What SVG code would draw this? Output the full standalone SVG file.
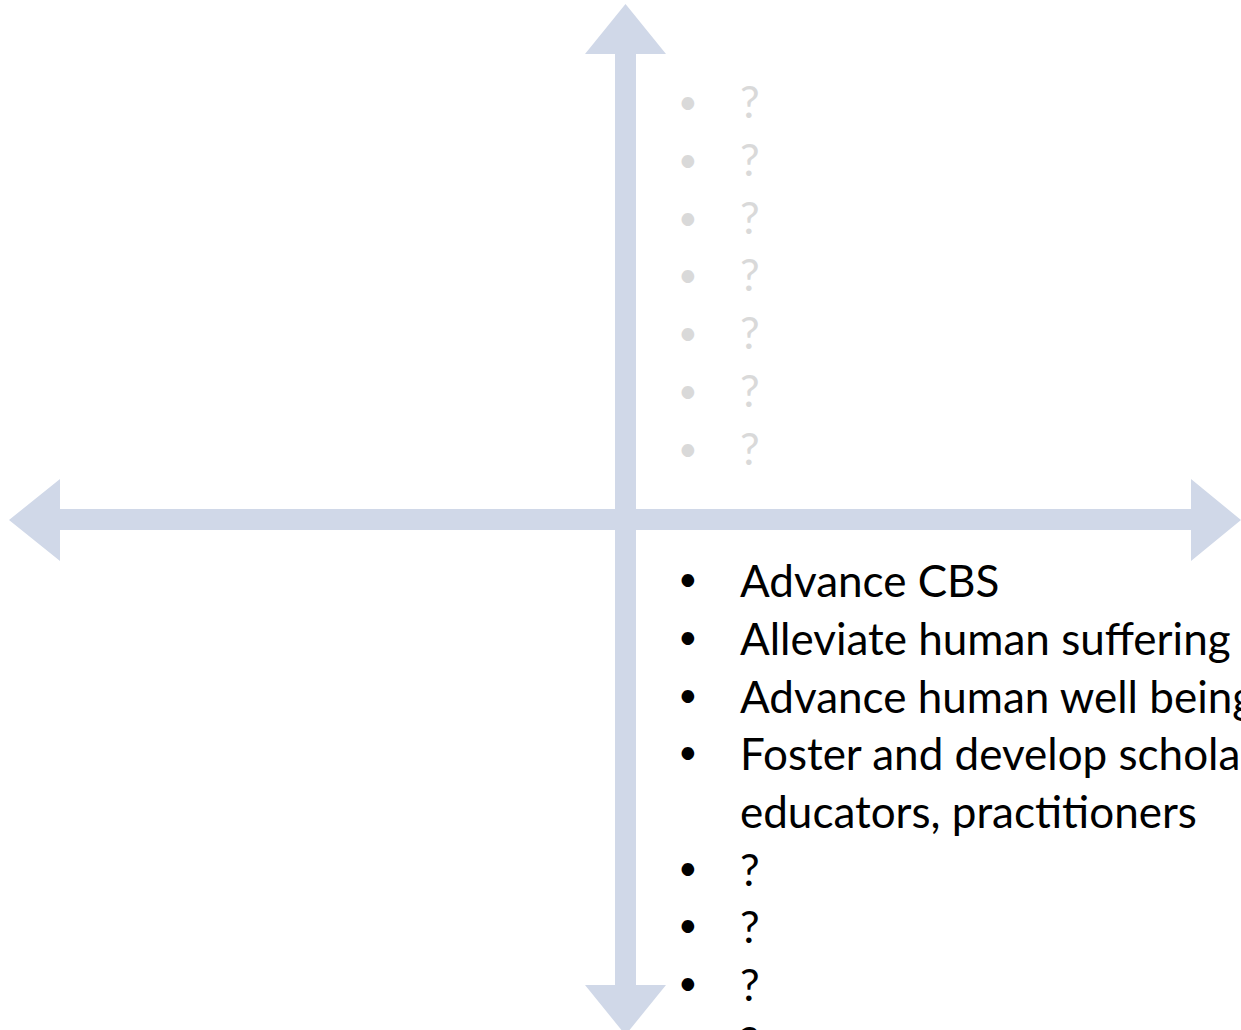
<svg xmlns="http://www.w3.org/2000/svg" width="1241" height="1030" viewBox="0 0 1241 1030">
<style>
.arrow{fill:#D0D8E8}
.t{font-family:Lato,"Open Sans","Liberation Sans",sans-serif;font-size:44px}
.b{font-family:Lato,"Open Sans","Liberation Sans",sans-serif;font-size:34px}
.gray{fill:#D9D9D9}
.black{fill:#000000}
</style>
<rect width="1241" height="1030" fill="#FFFFFF"/>
<g id="connectors">
<polygon class="arrow" points="625.5,4 666,54 636,54 636,985 666,985 625.5,1035 585,985 615,985 615,54 585,54"/>
<polygon class="arrow" points="9,520 60,479 60,509 1191,509 1191,479 1241,520 1191,561 1191,530 60,530 60,561"/>
</g>
<g id="top-list" class="gray">
<text class="b" x="678" y="114">•</text><text class="t" x="740" y="118">?</text>
<text class="b" x="678" y="172">•</text><text class="t" x="740" y="176">?</text>
<text class="b" x="678" y="230">•</text><text class="t" x="740" y="234">?</text>
<text class="b" x="678" y="287">•</text><text class="t" x="740" y="291">?</text>
<text class="b" x="678" y="345">•</text><text class="t" x="740" y="349">?</text>
<text class="b" x="678" y="403">•</text><text class="t" x="740" y="407">?</text>
<text class="b" x="678" y="461">•</text><text class="t" x="740" y="465">?</text>
</g>
<g id="bottom-list" class="black">
<text class="b" x="678" y="591">•</text><text class="t" x="740" y="597">Advance CBS</text>
<text class="b" x="678" y="649">•</text><text class="t" x="740" y="655">Alleviate human suffering</text>
<text class="b" x="678" y="707">•</text><text class="t" x="740" y="713">Advance human well being</text>
<text class="b" x="678" y="764">•</text><text class="t" x="740" y="770">Foster and develop scholars,</text>
<text class="t" x="740" y="828">educators, practitioners</text>
<text class="b" x="678" y="880">•</text><text class="t" x="740" y="886">?</text>
<text class="b" x="678" y="937">•</text><text class="t" x="740" y="943">?</text>
<text class="b" x="678" y="995">•</text><text class="t" x="740" y="1001">?</text>
<text class="b" x="678" y="1053">•</text><text class="t" x="740" y="1059">?</text>
</g>
</svg>
